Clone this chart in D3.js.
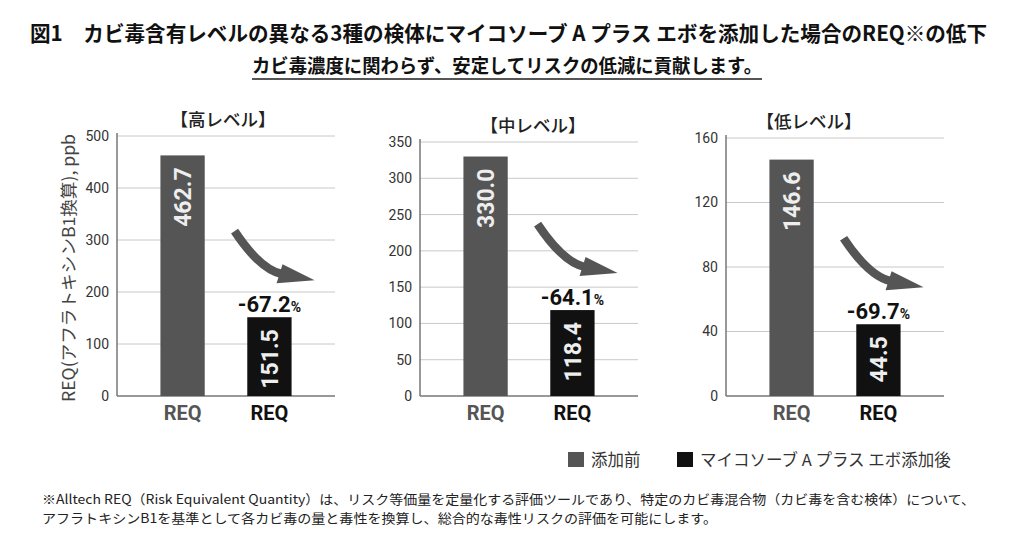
<!DOCTYPE html>
<html>
<head>
<meta charset="utf-8">
<script src="https://cdn.jsdelivr.net/npm/d3@7"></script>
<style>
  body { margin: 0; background: #fff; }
  text { font-family: "Noto Sans CJK JP", "Noto Sans", sans-serif; }
  .num { font-family: Roboto, "Liberation Sans", sans-serif; }
</style>
</head>
<body>
<div class="chart"></div>
<script>
// data
const panelTitles = ["【高レベル】", "【中レベル】", "【低レベル】"];
const beforeValues = [462.7, 330.0, 146.6];
const afterValues = [151.5, 118.4, 44.5];
const reductions = ["-67.2", "-64.1", "-69.7"];
const yMaxes = [500, 350, 160];
const ySteps = [100, 50, 40];
const xLabels = ["REQ", "REQ"];
const seriesNames = ["添加前", "マイコソーブ A プラス エボ添加後"];

const titleText = "図1　カビ毒含有レベルの異なる3種の検体にマイコソーブ A プラス エボを添加した場合のREQ※の低下";
const subtitleText = "カビ毒濃度に関わらず、安定してリスクの低減に貢献します。";
const yAxisLabel = "REQ(アフラトキシンB1換算), ppb";
const footnotes = [
  "※Alltech REQ（Risk Equivalent Quantity）は、リスク等価量を定量化する評価ツールであり、特定のカビ毒混合物（カビ毒を含む検体）について、",
  "アフラトキシンB1を基準として各カビ毒の量と毒性を換算し、総合的な毒性リスクの評価を可能にします。"
];

// layout
const outWidth = 1024, outHeight = 545;
const panelLeft = [117, 420, 726];
const panelTop = [136, 142, 138];
const titleShift = [-3, 4, -26];
const plotWidth = 218;
const baseY = 396;
const colors = ["#555555", "#111111"];

const svg = d3.select(".chart").append("svg")
  .attr("width", outWidth)
  .attr("height", outHeight);

svg.append("rect").attr("width", outWidth).attr("height", outHeight).attr("fill", "#fff");

// headings
svg.append("text")
  .attr("x", 30).attr("y", 41)
  .attr("font-size", 21).attr("font-weight", 700).attr("fill", "#111")
  .attr("textLength", 957).attr("lengthAdjust", "spacingAndGlyphs")
  .text(titleText);

svg.append("text")
  .attr("x", 252).attr("y", 73)
  .attr("font-size", 19).attr("font-weight", 700).attr("fill", "#111")
  .attr("textLength", 510).attr("lengthAdjust", "spacingAndGlyphs")
  .text(subtitleText);

svg.append("line")
  .attr("x1", 252).attr("x2", 762)
  .attr("y1", 79).attr("y2", 79)
  .attr("stroke", "#555").attr("stroke-width", 2);

// y axis title
svg.append("text")
  .attr("transform", "translate(69,268) rotate(-90)")
  .attr("text-anchor", "middle").attr("dy", "0.35em")
  .attr("font-size", 17).attr("fill", "#444")
  .attr("textLength", 268).attr("lengthAdjust", "spacingAndGlyphs")
  .text(yAxisLabel);

const xScale = d3.scaleBand()
  .domain([0, 1])
  .range([0, plotWidth])
  .paddingInner(0.49)
  .paddingOuter(0.5);

panelTitles.forEach((title, i) => {
  const height = baseY - panelTop[i];
  const g = svg.append("g")
    .attr("transform", `translate(${panelLeft[i]}, ${panelTop[i]})`);

  const yScale = d3.scaleLinear()
    .domain([0, yMaxes[i]])
    .range([height, 0]);
  const ticks = d3.range(0, yMaxes[i] + 1, ySteps[i]);

  // gridlines
  g.selectAll(".grid")
    .data(ticks.filter(t => t > 0))
    .enter().append("line")
    .attr("class", "grid")
    .attr("x1", 0).attr("x2", plotWidth)
    .attr("y1", d => yScale(d)).attr("y2", d => yScale(d))
    .attr("stroke", "#c8c8c8").attr("stroke-width", 1);

  const yAxis = d3.axisLeft(yScale).tickValues(ticks).tickSize(0).tickPadding(8);
  const ya = g.append("g").attr("class", "axis y-axis").call(yAxis);
  ya.select(".domain").remove();
  ya.selectAll("text")
    .attr("class", "num")
    .attr("font-size", 14).attr("fill", "#333");

  // axis lines
  g.append("line")
    .attr("x1", 0).attr("x2", 0).attr("y1", -3).attr("y2", height)
    .attr("stroke", "#777").attr("stroke-width", 1.5);
  g.append("line")
    .attr("x1", 0).attr("x2", plotWidth).attr("y1", height).attr("y2", height)
    .attr("stroke", "#777").attr("stroke-width", 1.5);

  const vals = [beforeValues[i], afterValues[i]];

  g.selectAll(".bar")
    .data(vals)
    .enter().append("rect")
    .attr("class", "bar")
    .attr("x", (d, j) => xScale(j))
    .attr("y", d => yScale(d))
    .attr("width", xScale.bandwidth())
    .attr("height", d => height - yScale(d))
    .attr("fill", (d, j) => colors[j]);

  // value labels inside bars
  g.selectAll(".val")
    .data(vals)
    .enter().append("text")
    .attr("class", "num val")
    .attr("transform", (d, j) =>
      `translate(${xScale(j) + xScale.bandwidth() / 2}, ${yScale(d) + 12}) rotate(-90)`)
    .attr("text-anchor", "end").attr("dy", "0.36em")
    .attr("font-size", 23).attr("font-weight", 700).attr("fill", "#eeeeee")
    .text(d => d.toFixed(1));

  // category labels
  g.selectAll(".cat")
    .data(xLabels)
    .enter().append("text")
    .attr("class", "num cat")
    .attr("x", (d, j) => xScale(j) + xScale.bandwidth() / 2)
    .attr("y", height + 24)
    .attr("text-anchor", "middle")
    .attr("font-size", 20).attr("font-weight", 700)
    .attr("fill", (d, j) => colors[j])
    .text(d => d);

  // reduction label
  const cx2 = xScale(1) + xScale.bandwidth() / 2;
  const pct = g.append("text")
    .attr("class", "num")
    .attr("x", cx2).attr("y", yScale(afterValues[i]) - 5)
    .attr("text-anchor", "middle")
    .attr("font-weight", 700).attr("fill", "#111");
  pct.append("tspan").attr("font-size", 22).text(reductions[i]);
  pct.append("tspan").attr("font-size", 14).text("%");

  // panel title
  g.append("text")
    .attr("x", plotWidth / 2 + titleShift[i]).attr("y", -10)
    .attr("text-anchor", "middle")
    .attr("font-size", 17.5).attr("font-weight", 500).attr("fill", "#222")
    .text(title);

  // curved arrow pointing at the reduced bar
  const tx = xScale(1) + xScale.bandwidth() + 23;
  const ty = yScale(afterValues[i]) - 37;
  g.append("path")
    .attr("d", `M${tx - 80},${ty - 49} Q${tx - 54},${ty - 10} ${tx - 32},${ty - 6}`)
    .attr("fill", "none").attr("stroke", "#555").attr("stroke-width", 8.5);
  g.append("path")
    .attr("d", `M${tx - 32},${ty - 16} L${tx},${ty} L${tx - 38},${ty + 3} Z`)
    .attr("fill", "#555");
});

// legend
const legend = svg.append("g").attr("class", "legend");
const legendX = [568, 677];
seriesNames.forEach((name, j) => {
  legend.append("rect")
    .attr("x", legendX[j]).attr("y", 452)
    .attr("width", 16).attr("height", 15)
    .attr("fill", colors[j]);
  legend.append("text")
    .attr("x", legendX[j] + 23).attr("y", 466)
    .attr("font-size", 16.5).attr("fill", "#333")
    .text(name);
});

// footnote
const footLen = [933, 675];
footnotes.forEach((line, k) => {
  svg.append("text")
    .attr("x", 42).attr("y", 504 + k * 19)
    .attr("font-size", 13).attr("fill", "#222")
    .attr("textLength", footLen[k]).attr("lengthAdjust", "spacingAndGlyphs")
    .text(line);
});
</script>
</body>
</html>
